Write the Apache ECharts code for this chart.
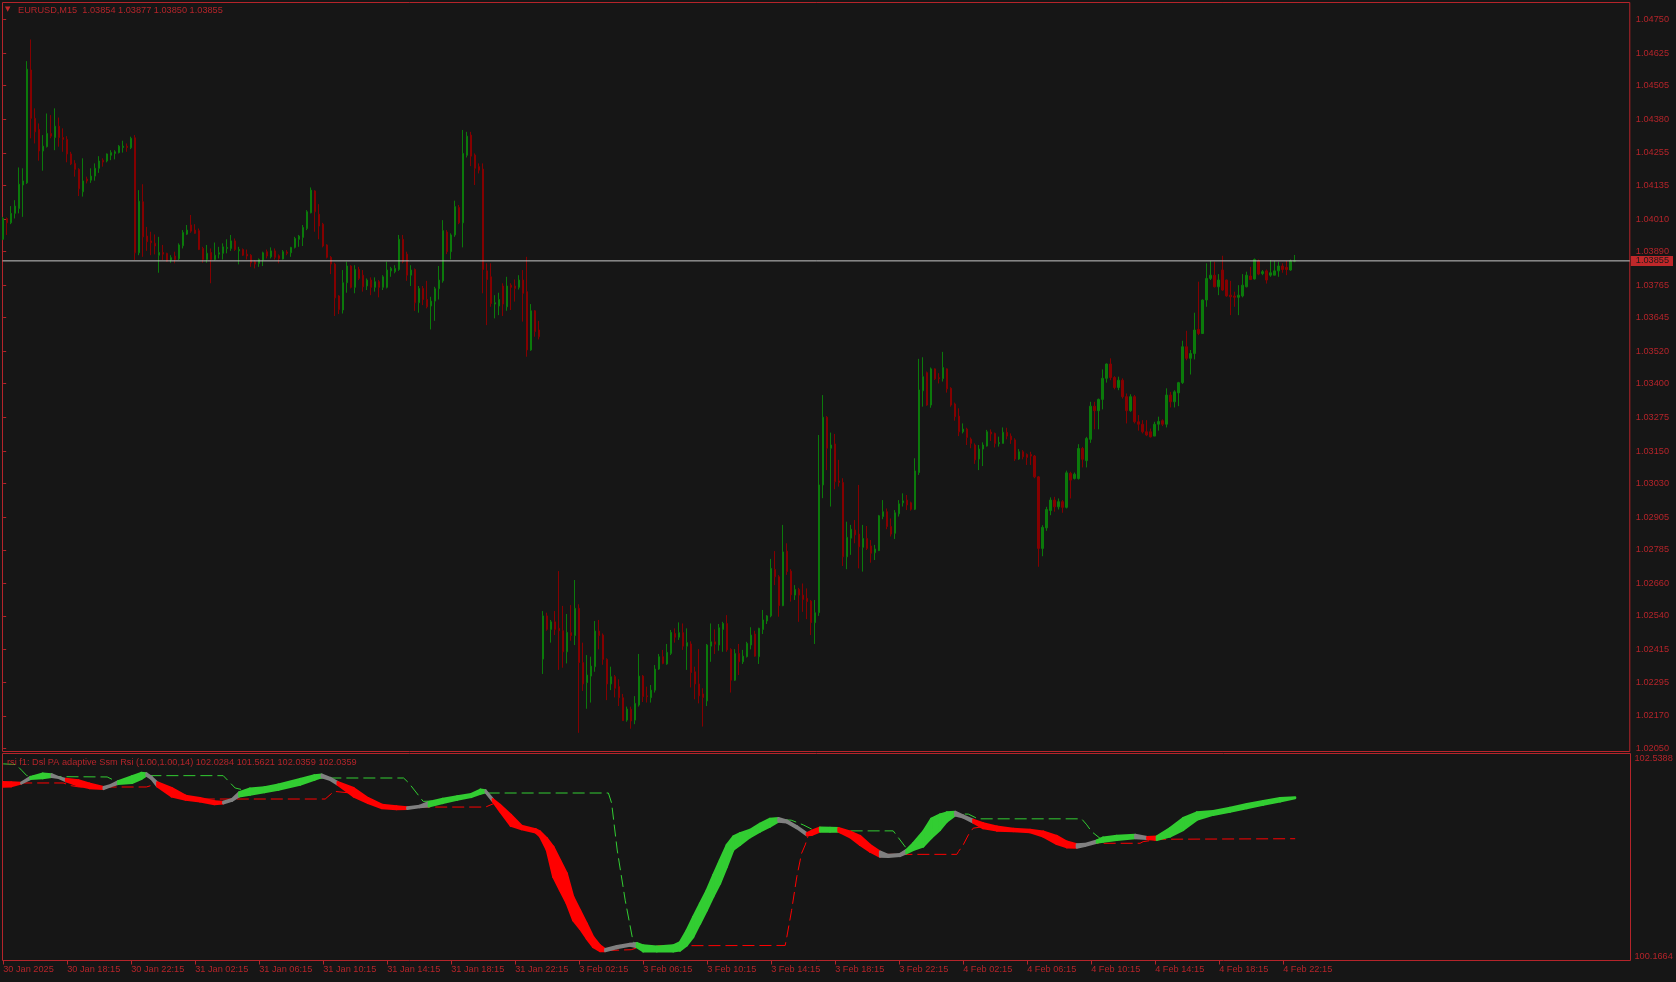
<!DOCTYPE html>
<html><head><meta charset="utf-8">
<script src="https://cdn.jsdelivr.net/npm/echarts@6/dist/echarts.min.js"></script>
<style>html,body{margin:0;padding:0;background:#161616;}#c{width:1676px;height:982px;}</style>
</head><body><div id="c"></div><script>
const symbolName = 'EURUSD';
const timeframe = 'M15';
const opens = [1.03935,1.04012,1.03996,1.04031,1.04049,1.04136,1.04144,1.04562,1.04383,1.04342,
1.04262,1.04278,1.04327,1.04312,1.04354,1.04312,1.04305,1.04251,1.04216,1.04194,
1.04111,1.04158,1.04154,1.04169,1.04198,1.04228,1.04225,1.04246,1.04253,1.04256,
1.04275,1.04280,1.04274,1.04311,1.03885,1.04074,1.03947,1.03929,1.03920,1.03876,
1.03886,1.03883,1.03858,1.03873,1.03863,1.03911,1.03954,1.03988,1.03969,1.03967,
1.03901,1.03860,1.03886,1.03860,1.03880,1.03883,1.03901,1.03901,1.03929,1.03892,
1.03897,1.03880,1.03876,1.03852,1.03846,1.03858,1.03889,1.03870,1.03892,1.03874,
1.03862,1.03888,1.03885,1.03905,1.03935,1.03942,1.03975,1.04033,1.04114,1.04028,
1.03991,1.03914,1.03868,1.03843,1.03725,1.03673,1.03774,1.03836,1.03757,1.03823,
1.03802,1.03762,1.03784,1.03757,1.03778,1.03757,1.03757,1.03818,1.03815,1.03823,
1.03935,1.03880,1.03802,1.03823,1.03700,1.03753,1.03712,1.03688,1.03706,1.03752,
1.03781,1.03962,1.03889,1.03951,1.04053,1.03996,1.04246,1.04321,1.04247,1.04204,
1.04195,1.03818,1.03796,1.03695,1.03688,1.03762,1.03685,1.03765,1.03762,1.03757,
1.03784,1.03741,1.03525,1.03670,1.03599,1.02380,1.02540,1.02490,1.02518,1.02494,
1.02485,1.02407,1.02478,1.02467,1.02568,1.02367,1.02293,1.02317,1.02352,1.02484,
1.02469,1.02379,1.02288,1.02315,1.02278,1.02237,1.02154,1.02194,1.02154,1.02210,
1.02317,1.02244,1.02237,1.02265,1.02343,1.02389,1.02362,1.02401,1.02475,1.02461,
1.02478,1.02428,1.02436,1.02333,1.02288,1.02251,1.02225,1.02428,1.02444,1.02432,
1.02490,1.02512,1.02416,1.02302,1.02401,1.02370,1.02389,1.02432,1.02473,1.02389,
1.02490,1.02521,1.02540,1.02712,1.02685,1.02578,1.02780,1.02706,1.02617,1.02638,
1.02617,1.02605,1.02595,1.02515,1.02552,1.03025,1.03276,1.03161,1.03177,1.03040,
1.03034,1.02759,1.02828,1.02858,1.02843,1.02794,1.02827,1.02799,1.02774,1.02782,
1.02908,1.02926,1.02871,1.02846,1.02918,1.02959,1.02969,1.02959,1.02935,1.03071,
1.03374,1.03441,1.03321,1.03455,1.03422,1.03419,1.03455,1.03383,1.03325,1.03280,
1.03222,1.03232,1.03195,1.03173,1.03121,1.03158,1.03169,1.03221,1.03216,1.03178,
1.03179,1.03220,1.03206,1.03192,1.03121,1.03148,1.03138,1.03138,1.03132,1.03055,
1.02790,1.02866,1.02930,1.02969,1.02944,1.02963,1.02942,1.03068,1.03049,1.03049,
1.03160,1.03115,1.03194,1.03317,1.03300,1.03342,1.03420,1.03473,1.03423,1.03386,
1.03413,1.03352,1.03300,1.03352,1.03259,1.03250,1.03222,1.03222,1.03206,1.03250,
1.03263,1.03250,1.03358,1.03333,1.03366,1.03404,1.03537,1.03494,1.03512,1.03601,
1.03586,1.03710,1.03790,1.03802,1.03759,1.03821,1.03784,1.03728,1.03725,1.03720,
1.03725,1.03759,1.03799,1.03788,1.03855,1.03808,1.03818,1.03802,1.03802,1.03818,
1.03836,1.03831,1.03821,1.03854];
const highs = [1.04018,1.04016,1.04058,1.04080,1.04201,1.04198,1.04595,1.04675,1.04420,1.04364,
1.04321,1.04401,1.04395,1.04420,1.04386,1.04346,1.04317,1.04259,1.04228,1.04198,
1.04235,1.04167,1.04198,1.04216,1.04243,1.04235,1.04253,1.04265,1.04265,1.04284,
1.04300,1.04290,1.04315,1.04321,1.04117,1.04139,1.03981,1.03963,1.03953,1.03944,
1.03914,1.03885,1.03876,1.03889,1.03920,1.03969,1.03988,1.04025,1.03991,1.03975,
1.03907,1.03914,1.03901,1.03923,1.03907,1.03920,1.03935,1.03951,1.03938,1.03907,
1.03901,1.03897,1.03880,1.03858,1.03864,1.03889,1.03897,1.03905,1.03901,1.03879,
1.03895,1.03895,1.03907,1.03944,1.03951,1.03988,1.04043,1.04127,1.04117,1.04065,
1.03996,1.03917,1.03873,1.03848,1.03728,1.03821,1.03852,1.03839,1.03839,1.03833,
1.03821,1.03790,1.03794,1.03794,1.03784,1.03802,1.03852,1.03833,1.03839,1.03951,
1.03951,1.03889,1.03839,1.03827,1.03762,1.03762,1.03781,1.03722,1.03759,1.03836,
1.04006,1.03969,1.03957,1.04078,1.04062,1.04340,1.04333,1.04333,1.04253,1.04216,
1.04216,1.03846,1.03846,1.03728,1.03737,1.03772,1.03796,1.03772,1.03786,1.03802,
1.03821,1.03870,1.03695,1.03673,1.03633,1.02558,1.02552,1.02525,1.02558,1.02706,
1.02577,1.02547,1.02580,1.02673,1.02583,1.02441,1.02395,1.02389,1.02521,1.02525,
1.02475,1.02383,1.02352,1.02321,1.02305,1.02251,1.02204,1.02204,1.02243,1.02399,
1.02321,1.02278,1.02284,1.02358,1.02399,1.02414,1.02436,1.02488,1.02494,1.02516,
1.02512,1.02494,1.02446,1.02352,1.02417,1.02272,1.02436,1.02512,1.02490,1.02510,
1.02518,1.02543,1.02420,1.02417,1.02436,1.02414,1.02444,1.02498,1.02485,1.02496,
1.02562,1.02543,1.02751,1.02780,1.02691,1.02877,1.02809,1.02713,1.02654,1.02644,
1.02660,1.02642,1.02599,1.02599,1.03210,1.03358,1.03280,1.03219,1.03214,1.03118,
1.03050,1.02889,1.02877,1.02895,1.03025,1.02877,1.02873,1.02821,1.02803,1.02914,
1.02969,1.02938,1.02901,1.02932,1.02969,1.02994,1.02988,1.02963,1.03124,1.03492,
1.03498,1.03445,1.03460,1.03457,1.03439,1.03518,1.03457,1.03387,1.03330,1.03309,
1.03253,1.03237,1.03201,1.03179,1.03173,1.03183,1.03229,1.03231,1.03219,1.03204,
1.03238,1.03237,1.03216,1.03198,1.03158,1.03154,1.03142,1.03148,1.03136,1.03058,
1.02876,1.02944,1.02979,1.02981,1.02975,1.02969,1.03078,1.03074,1.03071,1.03176,
1.03166,1.03203,1.03333,1.03333,1.03345,1.03453,1.03475,1.03494,1.03428,1.03426,
1.03420,1.03364,1.03361,1.03358,1.03284,1.03265,1.03265,1.03234,1.03259,1.03278,
1.03268,1.03383,1.03370,1.03376,1.03407,1.03559,1.03596,1.03525,1.03663,1.03778,
1.03712,1.03846,1.03855,1.03852,1.03806,1.03874,1.03786,1.03781,1.03741,1.03765,
1.03806,1.03815,1.03833,1.03864,1.03860,1.03821,1.03823,1.03858,1.03855,1.03852,
1.03846,1.03855,1.03860,1.03877];
const lows = [1.03932,1.03951,1.03991,1.04012,1.04031,1.04018,1.04140,1.04309,1.04290,1.04226,
1.04189,1.04275,1.04309,1.04265,1.04278,1.04259,1.04220,1.04210,1.04167,1.04095,
1.04093,1.04142,1.04144,1.04152,1.04181,1.04204,1.04220,1.04228,1.04231,1.04253,
1.04256,1.04259,1.04269,1.03858,1.03876,1.03870,1.03892,1.03876,1.03879,1.03811,
1.03858,1.03852,1.03848,1.03846,1.03858,1.03901,1.03951,1.03959,1.03955,1.03895,
1.03848,1.03848,1.03772,1.03856,1.03864,1.03860,1.03883,1.03892,1.03892,1.03842,
1.03873,1.03860,1.03833,1.03827,1.03833,1.03836,1.03864,1.03864,1.03860,1.03846,
1.03860,1.03876,1.03870,1.03901,1.03907,1.03910,1.03969,1.04031,1.03963,1.03935,
1.03905,1.03864,1.03806,1.03651,1.03658,1.03660,1.03737,1.03753,1.03735,1.03784,
1.03741,1.03747,1.03728,1.03741,1.03720,1.03747,1.03753,1.03796,1.03809,1.03818,
1.03846,1.03781,1.03762,1.03670,1.03663,1.03691,1.03679,1.03601,1.03633,1.03712,
1.03774,1.03880,1.03860,1.03944,1.03991,1.03905,1.04238,1.04206,1.04136,1.04179,
1.03735,1.03617,1.03685,1.03642,1.03654,1.03651,1.03670,1.03673,1.03704,1.03749,
1.03630,1.03500,1.03522,1.03574,1.03564,1.02325,1.02485,1.02441,1.02469,1.02340,
1.02348,1.02364,1.02448,1.02432,1.02107,1.02262,1.02196,1.02219,1.02333,1.02416,
1.02359,1.02228,1.02265,1.02238,1.02206,1.02151,1.02148,1.02122,1.02139,1.02204,
1.02221,1.02219,1.02219,1.02256,1.02340,1.02361,1.02359,1.02395,1.02441,1.02451,
1.02414,1.02340,1.02275,1.02231,1.02216,1.02130,1.02206,1.02370,1.02399,1.02411,
1.02407,1.02407,1.02256,1.02299,1.02321,1.02362,1.02386,1.02416,1.02389,1.02362,
1.02473,1.02510,1.02535,1.02654,1.02537,1.02576,1.02692,1.02593,1.02599,1.02518,
1.02555,1.02528,1.02469,1.02436,1.02540,1.02976,1.03080,1.02945,1.03009,1.03019,
1.02725,1.02713,1.02766,1.02809,1.02716,1.02704,1.02784,1.02737,1.02747,1.02780,
1.02898,1.02861,1.02834,1.02825,1.02908,1.02945,1.02932,1.02930,1.02932,1.03062,
1.03315,1.03318,1.03311,1.03414,1.03401,1.03408,1.03367,1.03315,1.03263,1.03206,
1.03216,1.03173,1.03161,1.03103,1.03080,1.03095,1.03167,1.03188,1.03164,1.03167,
1.03179,1.03194,1.03177,1.03114,1.03118,1.03120,1.03099,1.03099,1.03050,1.02722,
1.02761,1.02855,1.02913,1.02926,1.02934,1.02922,1.02938,1.02975,1.03045,1.03045,
1.03090,1.03090,1.03181,1.03231,1.03231,1.03305,1.03404,1.03413,1.03379,1.03376,
1.03345,1.03253,1.03296,1.03253,1.03226,1.03216,1.03206,1.03201,1.03206,1.03226,
1.03243,1.03238,1.03312,1.03312,1.03317,1.03399,1.03487,1.03434,1.03490,1.03580,
1.03584,1.03685,1.03784,1.03757,1.03728,1.03744,1.03722,1.03654,1.03685,1.03654,
1.03720,1.03757,1.03784,1.03786,1.03802,1.03802,1.03771,1.03796,1.03802,1.03796,
1.03811,1.03802,1.03818,1.03850];
const closes = [1.04012,1.03996,1.04031,1.04058,1.04139,1.04151,1.04565,1.04383,1.04333,1.04262,
1.04280,1.04327,1.04317,1.04354,1.04312,1.04305,1.04251,1.04214,1.04194,1.04122,
1.04151,1.04151,1.04169,1.04198,1.04225,1.04221,1.04251,1.04256,1.04259,1.04280,
1.04280,1.04275,1.04309,1.03885,1.04076,1.03944,1.03926,1.03922,1.03910,1.03886,
1.03880,1.03854,1.03867,1.03860,1.03914,1.03960,1.03969,1.03965,1.03957,1.03897,
1.03860,1.03883,1.03860,1.03876,1.03885,1.03907,1.03905,1.03929,1.03897,1.03897,
1.03876,1.03873,1.03848,1.03843,1.03860,1.03885,1.03873,1.03892,1.03868,1.03864,
1.03889,1.03883,1.03905,1.03938,1.03947,1.03979,1.04037,1.04117,1.04037,1.03984,
1.03910,1.03868,1.03843,1.03718,1.03675,1.03774,1.03836,1.03757,1.03823,1.03790,
1.03759,1.03784,1.03757,1.03778,1.03757,1.03796,1.03821,1.03827,1.03827,1.03935,
1.03852,1.03802,1.03821,1.03700,1.03753,1.03712,1.03685,1.03706,1.03752,1.03784,
1.03967,1.03889,1.03951,1.04056,1.03996,1.04253,1.04317,1.04243,1.04198,1.04191,
1.03823,1.03786,1.03697,1.03700,1.03712,1.03695,1.03762,1.03757,1.03753,1.03784,
1.03735,1.03525,1.03670,1.03593,1.03574,1.02540,1.02490,1.02518,1.02490,1.02485,
1.02407,1.02479,1.02467,1.02568,1.02367,1.02288,1.02321,1.02354,1.02484,1.02467,
1.02379,1.02288,1.02315,1.02272,1.02237,1.02152,1.02195,1.02151,1.02216,1.02317,
1.02241,1.02241,1.02265,1.02343,1.02389,1.02364,1.02405,1.02479,1.02461,1.02478,
1.02428,1.02441,1.02330,1.02288,1.02244,1.02238,1.02432,1.02444,1.02435,1.02496,
1.02512,1.02414,1.02302,1.02401,1.02370,1.02391,1.02438,1.02469,1.02391,1.02494,
1.02525,1.02540,1.02716,1.02685,1.02578,1.02777,1.02704,1.02618,1.02638,1.02617,
1.02601,1.02593,1.02515,1.02552,1.03025,1.03276,1.03161,1.03173,1.03037,1.03034,
1.02759,1.02831,1.02861,1.02840,1.02796,1.02827,1.02790,1.02772,1.02788,1.02911,
1.02926,1.02871,1.02843,1.02922,1.02955,1.02966,1.02951,1.02935,1.03077,1.03377,
1.03426,1.03321,1.03455,1.03418,1.03419,1.03460,1.03381,1.03321,1.03278,1.03222,
1.03232,1.03201,1.03179,1.03118,1.03158,1.03173,1.03222,1.03214,1.03179,1.03182,
1.03220,1.03206,1.03192,1.03121,1.03148,1.03129,1.03127,1.03132,1.03055,1.02790,
1.02868,1.02934,1.02969,1.02944,1.02963,1.02942,1.03070,1.03043,1.03065,1.03160,
1.03120,1.03197,1.03317,1.03300,1.03342,1.03420,1.03473,1.03423,1.03386,1.03413,
1.03352,1.03300,1.03352,1.03259,1.03250,1.03222,1.03210,1.03203,1.03250,1.03260,
1.03250,1.03358,1.03333,1.03370,1.03404,1.03537,1.03494,1.03512,1.03599,1.03586,
1.03710,1.03790,1.03802,1.03759,1.03784,1.03747,1.03725,1.03722,1.03720,1.03728,
1.03765,1.03802,1.03786,1.03860,1.03806,1.03815,1.03784,1.03811,1.03818,1.03836,
1.03823,1.03823,1.03855,1.03855];

const priceTicks = [1.02050,1.02170,1.02295,1.02415,1.02540,1.02660,1.02785,1.02905,1.03030,1.03150,1.03275,
  1.03400,1.03520,1.03645,1.03765,1.03890,1.04010,1.04135,1.04255,1.04380,1.04505,1.04625,1.04750];
const currentPrice = 1.03855;
const priceRange = [1.0203774, 1.0481204];

const timeTickBars = [0,16,32,48,64,80,96,112,128,144,160,176,192,208,224,240,256,272,288,304,320];
const timeTickLabels = ['30 Jan 2025','30 Jan 18:15','30 Jan 22:15','31 Jan 02:15','31 Jan 06:15','31 Jan 10:15',
  '31 Jan 14:15','31 Jan 18:15','31 Jan 22:15','3 Feb 02:15','3 Feb 06:15','3 Feb 10:15','3 Feb 14:15',
  '3 Feb 18:15','3 Feb 22:15','4 Feb 02:15','4 Feb 06:15','4 Feb 10:15','4 Feb 14:15','4 Feb 18:15','4 Feb 22:15'];

// indicator band (upper edge, lower edge, state: 1 up, -1 down, 0 neutral), sampled at bar positions
const bandBar = [0,2,4.5,6.8,9.9,12.1,13.9,15.7,18.8,21.5,25.1,26.9,28.7,32.2,34.5,35.8,37.1,38.5,42.1,45.6,
  49.2,52.8,55,57.2,59,61.7,65.3,68.8,74.2,77.8,79.6,81.8,83.6,87.6,91.2,94.7,98.3,101,104.1,106.4,
  109.9,113.5,117,119.3,120.6,122.4,124.2,126.9,129.6,133.1,134.2,135.9,137.5,139.2,140.9,142.5,144.2,145.9,147.5,149.2,
  150.5,153.4,156.7,158.4,160,163.4,167.5,169.2,170.9,172.5,174.2,175.9,177.5,179.2,180.9,182.5,184.2,186.7,189.2,191.7,
  193.8,195.9,198.4,200.9,202.1,204.2,206.7,208.8,211.7,214.2,216.7,219.2,221.3,224.2,225.8,227.5,230,232,234.2,235.9,
  238,240,242.5,245,248.4,252.5,256.7,260,263.4,265.9,268.4,270.4,273.4,275,278.4,283,286,288.4,291.7,295,
  298.4,302.5,306.7,310.9,315,319.2,323];
const bandTop = [102.212,102.209,102.203,102.270,102.308,102.301,102.266,102.247,102.232,102.193,102.155,102.178,102.220,102.278,102.316,102.312,102.270,102.209,102.143,102.055,
  102.028,101.990,101.986,102.017,102.093,102.136,102.151,102.182,102.247,102.289,102.297,102.259,102.212,102.143,102.028,101.951,101.932,101.921,101.940,101.982,
  102.020,102.047,102.074,102.124,102.116,102.017,101.951,101.836,101.710,101.671,101.644,101.567,101.472,101.318,101.164,100.896,100.742,100.589,100.435,100.339,
  100.297,100.331,100.358,100.366,100.339,100.327,100.339,100.377,100.512,100.665,100.819,100.972,101.145,101.318,101.491,101.587,101.625,101.663,101.733,101.790,
  101.798,101.771,101.706,101.625,101.652,101.690,101.686,101.683,101.644,101.594,101.491,101.414,101.376,101.387,101.433,101.510,101.644,101.790,101.840,101.863,
  101.871,101.829,101.779,101.740,101.702,101.675,101.663,101.644,101.594,101.529,101.498,101.502,101.541,101.575,101.594,101.606,101.580,101.587,101.683,101.798,
  101.863,101.878,101.917,101.959,101.994,102.028,102.036];
const bandBot = [102.159,102.163,102.195,102.247,102.255,102.270,102.258,102.220,102.170,102.143,102.132,102.163,102.189,102.201,102.247,102.285,102.247,102.163,102.047,102.009,
  101.990,101.959,101.967,101.997,102.047,102.067,102.097,102.124,102.182,102.239,102.266,102.235,102.182,102.047,101.971,101.913,101.901,101.905,101.925,101.932,
  101.971,102.009,102.040,102.078,102.093,101.990,101.875,101.710,101.671,101.633,101.587,101.433,101.126,100.972,100.819,100.627,100.531,100.416,100.320,100.274,
  100.274,100.308,100.335,100.320,100.270,100.270,100.270,100.281,100.339,100.435,100.589,100.742,100.896,101.049,101.241,101.433,101.491,101.579,101.644,101.702,
  101.759,101.748,101.683,101.602,101.606,101.644,101.644,101.644,101.579,101.491,101.414,101.356,101.353,101.364,101.395,101.433,101.472,101.570,101.663,101.759,
  101.829,101.805,101.748,101.683,101.656,101.648,101.637,101.587,101.502,101.464,101.460,101.479,101.518,101.529,101.548,101.570,101.560,101.548,101.587,101.663,
  101.779,101.836,101.871,101.913,101.951,101.990,102.028];
const bandState = [-1,-1,0,1,1,0,0,-1,-1,-1,0,0,1,1,1,0,0,-1,-1,-1,
  -1,-1,0,0,1,1,1,1,1,1,0,0,-1,-1,-1,-1,-1,0,0,1,
  1,1,1,1,0,-1,-1,-1,-1,-1,-1,-1,-1,-1,-1,-1,-1,-1,-1,-1,
  0,0,0,1,1,1,1,1,1,1,1,1,1,1,1,1,1,1,1,1,
  0,0,0,-1,-1,1,1,-1,-1,-1,-1,0,0,0,1,1,1,1,1,1,
  0,0,-1,-1,-1,-1,-1,-1,-1,-1,0,0,1,1,1,0,-1,1,1,1,
  1,1,1,1,1,1,1];

// upper (green) and lower (red) dsl levels
const upLevelBar = [0,3.2,4.6,5.9,12.6,26,28.7,31,33.5,35.8,55,58,62,68,74,78,80,100.1,101.4,105,110,115,119,120.2,151.3,152.1,153.5,155.5,157.5,
  160,168,172,176,180,184,188,192,194,197,200,202,205,209,222.5,225.8,228,231,234,236,238,241.3,243.7,269.6,270.9,272.1,274.2,
  282,288,292,296,300,306,312,318,323];
const upLevelVal = [102.420,102.412,102.347,102.285,102.274,102.270,102.209,102.230,102.270,102.285,102.285,102.143,102.100,102.150,102.210,102.250,102.258,102.258,102.201,101.990,102.000,102.050,102.080,102.086,102.086,101.971,101.433,100.857,100.377,
  100.300,100.300,100.550,100.860,101.200,101.550,101.650,101.750,101.779,101.775,101.721,101.675,101.665,101.652,101.652,101.452,101.470,101.600,101.750,101.830,101.848,101.844,101.790,101.790,101.721,101.644,101.567,
  101.585,101.575,101.640,101.760,101.850,101.900,101.950,102.000,102.036];
const dnLevelBar = [0,15,17,19,35.8,38.5,42,46,50,80.5,82.7,86,90,94,98,120.6,123.3,126,130,134,137,140,143,146,149,151,157,160,195.5,
  195.9,197.1,198.4,199.6,200.5,201.3,203,208,212,216,219,221,238.4,238.8,240,241.3,242.5,245,250,256,260,264,268,272,274.2,284.2,285,289.2,323];
const dnLevelVal = [102.201,102.201,102.170,102.155,102.155,102.193,102.100,102.030,102.017,102.017,102.105,102.090,102.010,101.940,101.925,101.925,101.978,101.800,101.690,101.620,101.350,101.050,100.750,100.500,100.300,100.281,100.290,100.335,100.339,
  100.435,100.742,101.126,101.395,101.491,101.606,101.644,101.644,101.600,101.450,101.390,101.383,101.383,101.414,101.491,101.606,101.683,101.700,101.660,101.645,101.620,101.530,101.480,101.505,101.510,101.510,101.529,101.556,101.562];

const indName = 'rsi f1: Dsl PA adaptive Ssm Rsi (1.00,1.00,14)';
const indValues = [102.0284, 101.5621, 102.0359, 102.0359];
const indRange = [100.1664, 102.5388];

// ---- styling ----
const FONT = 'Liberation Sans';
const FS = 9.2;
const RED_TXT = '#b5242a';
const FRAME = '#b5242a';
const BULL = '#0b7a0b';
const BEAR = '#850000';
const stateColors = { '1': '#32cd32', '-1': '#ff0000', '0': '#808080' };
const X_MIN = -0.175, X_MAX = 406.825;

const candleData = opens.map((o, i) => [i, o, closes[i], lows[i], highs[i]]);
const bandData = bandBar.map((b, i) => [b, bandTop[i], bandBot[i], bandState[i]]);
const last = opens.length - 1;
const header1 = symbolName + ',' + timeframe + '  ' +
  [opens[last], highs[last], lows[last], closes[last]].map(v => v.toFixed(5)).join(' ');
const header2 = indName + ' ' + indValues.map(v => v.toFixed(4)).join(' ');

const chart = echarts.init(document.getElementById('c'), null, { renderer: 'canvas' });
const txt = { color: RED_TXT, fontFamily: FONT, fontSize: FS };

chart.setOption({
  backgroundColor: '#161616',
  animation: false,
  textStyle: { fontFamily: FONT },
  title: [
    { text: '\u25BC', left: 5, top: 6, padding: 0, textStyle: { color: '#c0282a', fontSize: 7, fontFamily: 'DejaVu Sans', fontWeight: 'normal' } },
    { text: header1, left: 18, top: 6, padding: 0, textStyle: Object.assign({ fontWeight: 'normal' }, txt) },
    { text: header2, left: 7, top: 758, padding: 0, textStyle: Object.assign({ fontWeight: 'normal' }, txt) }
  ],
  grid: [
    { left: 2.5, top: 2.5, width: 1628, height: 749, show: true, borderColor: FRAME, borderWidth: 1, backgroundColor: 'transparent' },
    { left: 2.5, top: 753.5, width: 1628, height: 207, show: true, borderColor: FRAME, borderWidth: 1, backgroundColor: 'transparent' }
  ],
  xAxis: [
    { type: 'value', gridIndex: 0, min: X_MIN, max: X_MAX, show: false },
    { type: 'value', gridIndex: 1, min: X_MIN, max: X_MAX, position: 'bottom',
      axisLine: { show: false }, splitLine: { show: false },
      axisTick: { show: true, customValues: timeTickBars, length: 4, lineStyle: { color: FRAME } },
      axisLabel: Object.assign({ customValues: timeTickBars, align: 'left', margin: 4,
        formatter: v => timeTickLabels[timeTickBars.indexOf(Math.round(v))] || '' }, txt) }
  ],
  yAxis: [
    { type: 'value', gridIndex: 0, position: 'right', min: priceRange[0], max: priceRange[1],
      axisLine: { show: false }, splitLine: { show: false },
      axisTick: { show: true, customValues: priceTicks, length: 3, lineStyle: { color: FRAME } },
      axisLabel: Object.assign({ customValues: priceTicks, margin: 6, formatter: v => v.toFixed(5) }, txt) },
    { type: 'value', gridIndex: 0, position: 'right', min: priceRange[0], max: priceRange[1], z: 10,
      axisLine: { show: false }, splitLine: { show: false }, axisTick: { show: false },
      axisLabel: { customValues: [currentPrice], margin: 1, formatter: v => v.toFixed(5),
        color: '#1a1a1a', fontFamily: FONT, fontSize: FS, backgroundColor: '#c0282a', padding: [1, 4, 0, 5] } },
    { type: 'value', gridIndex: 1, position: 'right', min: indRange[0], max: indRange[1],
      axisLine: { show: false }, splitLine: { show: false },
      axisTick: { show: true, customValues: indRange, length: 3, lineStyle: { color: FRAME } },
      axisLabel: Object.assign({ customValues: indRange, margin: 4, formatter: v => v.toFixed(4),
        verticalAlignMinLabel: 'bottom', verticalAlignMaxLabel: 'top' }, txt) }
  ],
  series: [
    { type: 'candlestick', xAxisIndex: 0, yAxisIndex: 0, data: candleData, barWidth: 2,
      itemStyle: { color: BULL, color0: BEAR, borderColor: BULL, borderColor0: BEAR, borderWidth: 1 } },
    { type: 'line', xAxisIndex: 0, yAxisIndex: 0, z: 3, silent: true, showSymbol: false,
      data: [[X_MIN, currentPrice], [X_MAX, currentPrice]],
      lineStyle: { color: '#c8c8c8', width: 1, type: 'solid' } },
    { type: 'line', xAxisIndex: 1, yAxisIndex: 2, z: 2, silent: true, showSymbol: false,
      data: upLevelBar.map((b, i) => [b, upLevelVal[i]]),
      lineStyle: { color: '#32cd32', width: 1, type: [12, 5] } },
    { type: 'line', xAxisIndex: 1, yAxisIndex: 2, z: 2, silent: true, showSymbol: false,
      data: dnLevelBar.map((b, i) => [b, dnLevelVal[i]]),
      lineStyle: { color: '#ff0000', width: 1, type: [12, 5] } },
    { type: 'custom', xAxisIndex: 1, yAxisIndex: 2, z: 4, silent: true, clip: true,
      data: bandData, encode: { x: 0, y: [1, 2] },
      renderItem: function (params, api) {
        const i = params.dataIndex;
        if (i >= bandData.length - 1) return null;
        const a = bandData[i], b = bandData[i + 1];
        const pts = [api.coord([a[0], a[1]]), api.coord([b[0], b[1]]), api.coord([b[0], b[2]]), api.coord([a[0], a[2]])];
        const col = stateColors[String(a[3])];
        return { type: 'polygon', shape: { points: pts }, style: { fill: col, stroke: col, lineWidth: 2.2, lineJoin: 'round' } };
      } }
  ]
});
</script></body></html>
